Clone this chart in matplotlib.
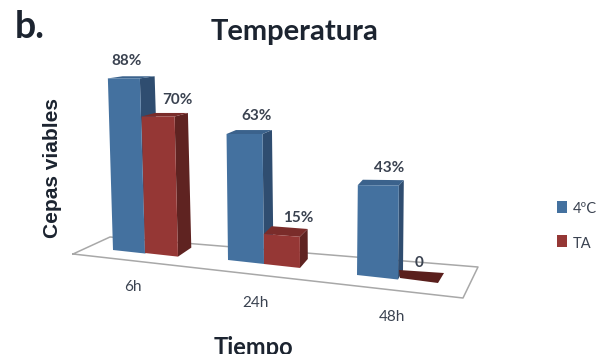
import matplotlib
matplotlib.use("Agg")
import matplotlib.pyplot as plt

tiempos = ["6h", "24h", "48h"]
serie_4c = [88, 63, 43]
serie_ta = [70, 15, 0]
etiquetas_4c = ["88%", "63%", "43%"]
etiquetas_ta = ["70%", "15%", "0"]

# layout of the pseudo 3D scene, in pixels
base_4c = [(113, 250), (228, 260), (357, 275)]
base_ta = [(145, 253), (264, 264), (399, 278)]
ancho_4c = [32, 36, 41]
ancho_ta = [33, 36, 39]
escala = [1.95, 2.0, 2.09]  # pixels per percent, grows towards the viewer
suelo = [(73, 254), (110, 237), (478, 267), (463, 298)]
offset_4c = [-2, 11, 12]
offset_ta = [16, 16, 20]

AZUL = ("#44719f", "#2f4d70", "#3b628c")
ROJO = ("#953735", "#5f2321", "#7a2c2a")
TEXTO = "#1c2430"
TEXTO_SUAVE = "#3a4250"

orden = [2]


def z():
    orden[0] += 1
    return orden[0]


def caja(x, y, w, valor, esc, colores):
    '''draw one bar: side, top and front faces'''
    h = valor * esc
    lean = (x - 300) * 0.00016 * h
    slope = max(0.11 - 0.0011 * h, 0.0)
    dx = max(15 - (x + w - 140) * 0.045, 5)
    dy = -9 + 0.04 * h
    # front top corners
    tl = (x + lean, y - h)
    tr = (x + w + lean, y - h + slope * w)
    br = (x + w, y + w * 0.11)
    frente, lado, tapa = colores
    ax.fill([tr[0], tr[0] + dx, br[0] + dx, br[0]],
            [tr[1], tr[1] + dy, br[1] - 9, br[1]], color=lado, lw=0, zorder=z())
    ax.fill([tl[0], tl[0] + dx, tr[0] + dx, tr[0]],
            [tl[1], tl[1] + dy, tr[1] + dy, tr[1]], color=tapa, lw=0, zorder=z())
    ax.fill([tl[0], tr[0], br[0], x],
            [tl[1], tr[1], br[1], y], color=frente, lw=0, zorder=z())


plt.rcParams["font.family"] = ["Lato", "DejaVu Sans"]

fig = plt.figure(figsize=(6.03, 3.54), dpi=100)
ax = fig.add_axes([0, 0, 1, 1])
ax.set_xlim(0, 603)
ax.set_ylim(354, 0)
ax.axis("off")

# floor
xs = [p[0] for p in suelo] + [suelo[0][0]]
ys = [p[1] for p in suelo] + [suelo[0][1]]
ax.plot(xs, ys, color="#a8a8a8", lw=1.1, zorder=1)

for i in range(len(tiempos)):
    x, y = base_4c[i]
    caja(x, y, ancho_4c[i], serie_4c[i], escala[i], AZUL)
    tope = y - serie_4c[i] * escala[i]
    ax.text(x + ancho_4c[i] / 2 + offset_4c[i], tope - 17.5, etiquetas_4c[i], ha="center", va="center",
            fontsize=11, fontweight="bold", color=TEXTO_SUAVE, zorder=50)

    x, y = base_ta[i]
    if serie_ta[i] > 0:
        caja(x, y, ancho_ta[i], serie_ta[i], escala[i], ROJO)
        tope = y - serie_ta[i] * escala[i]
        ax.text(x + ancho_ta[i] / 2 + offset_ta[i], tope - 16, etiquetas_ta[i], ha="center", va="center",
                fontsize=11, fontweight="bold", color=TEXTO_SUAVE, zorder=50)
    else:
        # a zero value leaves only a flat dark patch on the floor
        ax.fill([x, x + 45, x + 39, x + 1], [y - 8, y - 5, y + 5, y],
                color="#5a1f1c", lw=0, zorder=z())
        ax.text(x + offset_ta[i], y - 15, etiquetas_ta[i], ha="center", va="center",
                fontsize=11, fontweight="bold", color=TEXTO_SUAVE, zorder=50)

# category labels follow the front edge of the floor
pos_cat = [(133, 287), (255, 303), (392, 317)]
for nombre, (cx, cy) in zip(tiempos, pos_cat):
    ax.text(cx, cy, nombre, ha="center", va="center", fontsize=11, color=TEXTO_SUAVE)

ax.text(15, 27, "b.", ha="left", va="center", fontsize=27, fontweight="bold", color=TEXTO)
ax.text(295, 32, "Temperatura", ha="center", va="center", fontsize=21, fontweight="bold", color=TEXTO)
ax.text(52, 168, "Cepas viables", rotation=90, ha="center", va="center",
        fontsize=15, fontweight="bold", color=TEXTO, family="Liberation Sans")
ax.text(253, 355, "Tiempo", ha="center", va="baseline", fontsize=17, fontweight="bold", color=TEXTO)

# legend
ax.fill([557, 567, 567, 557], [201, 201, 213, 213], color=AZUL[0], lw=0)
ax.fill([557, 567, 567, 557], [235, 235, 247, 247], color=ROJO[0], lw=0)
ax.text(573, 209, "4ºC", ha="left", va="center", fontsize=10.5, color=TEXTO_SUAVE)
ax.text(573, 244, "TA", ha="left", va="center", fontsize=10.5, color=TEXTO_SUAVE)

fig.savefig("out.png", dpi=100)
